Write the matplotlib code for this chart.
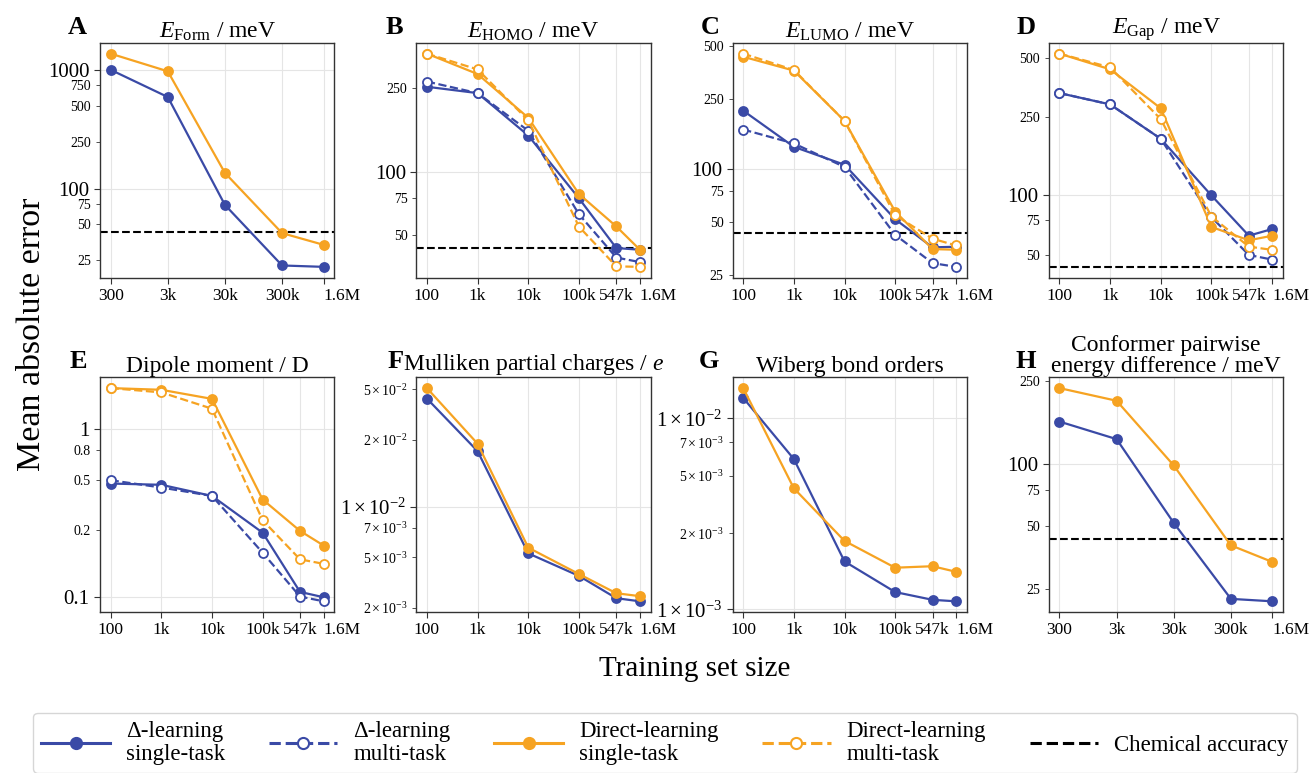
import matplotlib
matplotlib.use('Agg')
import matplotlib.pyplot as plt
from matplotlib.lines import Line2D
from matplotlib.ticker import NullLocator

plt.rcParams['font.family'] = ['Liberation Serif', 'DejaVu Serif']
plt.rcParams['mathtext.fontset'] = 'custom'
plt.rcParams['mathtext.rm'] = 'Liberation Serif'
plt.rcParams['mathtext.it'] = 'Liberation Serif:italic'
plt.rcParams['mathtext.bf'] = 'Liberation Serif:bold'

# training set sizes on the x axis
sizes_conf = [300, 3000, 30000, 300000, 1600000]
labels_conf = ['300', '3k', '30k', '300k', '1.6M']
sizes_qm = [100, 1000, 10000, 100000, 547000, 1600000]
labels_qm = ['100', '1k', '10k', '100k', '547k', '1.6M']

chem_acc = 43.4  # 1 kcal/mol in meV

# A: formation energy
form_delta_st = [1010, 595, 73, 22.5, 21.9]
form_direct_st = [1383, 981, 136, 42.2, 33.6]

# B: HOMO
homo_delta_st = [254, 237, 149, 75, 43.5, 42.7]
homo_delta_mt = [269, 237, 157, 63, 39.2, 37.3]
homo_direct_st = [365, 292, 181, 78.6, 55.1, 42.7]
homo_direct_mt = [365, 307, 176, 55, 35.6, 35.4]

# C: LUMO
lumo_delta_st = [215, 134, 106, 52, 36, 36.3]
lumo_delta_mt = [168, 140, 103, 42.4, 29.3, 27.9]
lumo_direct_st = [435, 363, 188, 57.5, 35.2, 34.9]
lumo_direct_mt = [453, 366, 188, 54.8, 40.3, 36.9]

# D: gap
gap_delta_st = [331, 290, 194, 100, 62.5, 67.6]
gap_delta_mt = [331, 290, 194, 77.6, 49.9, 47.2]
gap_direct_st = [525, 437, 277, 69.2, 59.2, 62.5]
gap_direct_mt = [525, 447, 244, 78.2, 55, 52.9]

# E: dipole moment
dip_delta_st = [0.474, 0.466, 0.40, 0.242, 0.1076, 0.100]
dip_delta_mt = [0.496, 0.449, 0.40, 0.184, 0.101, 0.0946]
dip_direct_st = [1.75, 1.71, 1.51, 0.381, 0.248, 0.203]
dip_direct_mt = [1.75, 1.65, 1.32, 0.287, 0.168, 0.158]

# F: Mulliken charges
mull_delta_st = [0.0440, 0.0214, 0.00527, 0.00387, 0.00285, 0.00273]
mull_direct_st = [0.0508, 0.0237, 0.0057, 0.00397, 0.00305, 0.00293]

# G: Wiberg bond orders
wbo_delta_st = [0.0128, 0.00612, 0.00178, 0.00123, 0.00112, 0.0011]
wbo_direct_st = [0.0144, 0.0043, 0.00228, 0.00165, 0.00168, 0.00157]

# H: conformer energy differences
conf_delta_st = [159, 131, 52, 22.5, 21.9]
conf_direct_st = [230, 200, 98, 40.6, 33.8]

blue = '#3a4aa6'
orange = '#f6a322'
styles = {
    'dst': dict(color=blue, ls='-', mfc=blue),
    'dmt': dict(color=blue, ls='--', mfc='white'),
    'ost': dict(color=orange, ls='-', mfc=orange),
    'omt': dict(color=orange, ls='--', mfc='white'),
}

sci = lambda m, e: r'$%d\times10^{%d}$' % (m, e)

panels = [
    dict(letter='A', title=r'$E_{\mathrm{Form}}$ / meV', x=sizes_conf, xl=labels_conf,
         series=[('dst', form_delta_st), ('ost', form_direct_st)],
         major=[100, 1000], major_l=['100', '1000'],
         minor=[25, 50, 75, 250, 500, 750], minor_l=['25', '50', '75', '250', '500', '750'], chem=True),
    dict(letter='B', title=r'$E_{\mathrm{HOMO}}$ / meV', x=sizes_qm, xl=labels_qm,
         series=[('dst', homo_delta_st), ('dmt', homo_delta_mt), ('ost', homo_direct_st), ('omt', homo_direct_mt)],
         major=[100], major_l=['100'],
         minor=[50, 75, 250], minor_l=['50', '75', '250'], chem=True),
    dict(letter='C', title=r'$E_{\mathrm{LUMO}}$ / meV', x=sizes_qm, xl=labels_qm,
         series=[('dst', lumo_delta_st), ('dmt', lumo_delta_mt), ('ost', lumo_direct_st), ('omt', lumo_direct_mt)],
         major=[100], major_l=['100'],
         minor=[25, 50, 75, 250, 500], minor_l=['25', '50', '75', '250', '500'], chem=True),
    dict(letter='D', title=r'$E_{\mathrm{Gap}}$ / meV', x=sizes_qm, xl=labels_qm,
         series=[('dst', gap_delta_st), ('dmt', gap_delta_mt), ('ost', gap_direct_st), ('omt', gap_direct_mt)],
         major=[100], major_l=['100'],
         minor=[50, 75, 250, 500], minor_l=['50', '75', '250', '500'], chem=True),
    dict(letter='E', title='Dipole moment / D', x=sizes_qm, xl=labels_qm,
         series=[('dst', dip_delta_st), ('dmt', dip_delta_mt), ('ost', dip_direct_st), ('omt', dip_direct_mt)],
         major=[0.1, 1], major_l=['0.1', '1'],
         minor=[0.25, 0.5, 0.75], minor_l=['0.2', '0.5', '0.8'], chem=False),
    dict(letter='F', title=r'Mulliken partial charges / $e$', x=sizes_qm, xl=labels_qm,
         series=[('dst', mull_delta_st), ('ost', mull_direct_st)],
         major=[0.01], major_l=[sci(1, -2)],
         minor=[0.0025, 0.005, 0.0075, 0.025, 0.05],
         minor_l=[sci(2, -3), sci(5, -3), sci(7, -3), sci(2, -2), sci(5, -2)], chem=False),
    dict(letter='G', title='Wiberg bond orders', x=sizes_qm, xl=labels_qm,
         series=[('dst', wbo_delta_st), ('ost', wbo_direct_st)],
         major=[0.001, 0.01], major_l=[sci(1, -3), sci(1, -2)],
         minor=[0.0025, 0.005, 0.0075], minor_l=[sci(2, -3), sci(5, -3), sci(7, -3)], chem=False),
    dict(letter='H', title='Conformer pairwise\nenergy difference / meV', x=sizes_conf, xl=labels_conf,
         series=[('dst', conf_delta_st), ('ost', conf_direct_st)],
         major=[100], major_l=['100'],
         minor=[25, 50, 75, 250], minor_l=['25', '50', '75', '250'], chem=True),
]

fig, axes = plt.subplots(2, 4, figsize=(13.09, 7.73), dpi=100)
fig.subplots_adjust(left=0.0764, right=0.9802, top=0.9444, bottom=0.2083, wspace=0.35, hspace=0.426)

for ax, p in zip(axes.flat, panels):
    for key, vals in p['series']:
        st = styles[key]
        ax.plot(p['x'], vals, color=st['color'], ls=st['ls'], lw=1.6, marker='o', ms=6.5,
                mfc=st['mfc'], mec=st['color'], mew=1.3)
    if p['chem']:
        ax.axhline(chem_acc, color='black', ls='--', lw=1.5, zorder=1.5)
    ax.set_xscale('log')
    ax.set_yscale('log')
    ylim = ax.get_ylim()
    ax.set_xticks(p['x'], p['xl'])
    ax.xaxis.set_minor_locator(NullLocator())
    # last label (1.6M) sits to the right of its tick so it does not hit 547k / 300k
    ax.get_xticklabels()[-1].set_horizontalalignment('left')
    ax.set_yticks(p['major'], labels=p['major_l'])
    ax.set_yticks(p['minor'], labels=p['minor_l'], minor=True)
    ax.set_ylim(ylim)
    ax.tick_params(axis='x', labelsize=12.5, length=4, color='#333333')
    ax.tick_params(axis='y', which='major', labelsize=15, length=4, color='#333333')
    ax.tick_params(axis='y', which='minor', labelsize=10, length=3, color='#333333')
    ax.grid(True, which='major', color='#e5e5e5', lw=0.8)
    ax.set_axisbelow(True)
    for s in ax.spines.values():
        s.set_color('#333333')
        s.set_linewidth(1.0)
    ax.set_title(p['title'], fontsize=17, pad=2.5, linespacing=1.05)
    ax.text(-0.055, 1.04, p['letter'], transform=ax.transAxes, ha='right', va='baseline',
            fontsize=19, fontweight='bold')

fig.text(0.024, 0.567, 'Mean absolute error', rotation=90, ha='center', va='center', fontsize=24.5)
fig.text(0.531, 0.134, 'Training set size', ha='center', va='center', fontsize=21)

handles = []
for key in ['dst', 'dmt', 'ost', 'omt']:
    st = styles[key]
    handles.append(Line2D([], [], color=st['color'], ls=st['ls'], lw=2.2, marker='o', ms=8,
                          mfc=st['mfc'], mec=st['color'], mew=1.5))
handles.append(Line2D([], [], color='black', ls='--', lw=2.2))
labels = ['\u0394-learning\nsingle-task', '\u0394-learning\nmulti-task',
          'Direct-learning\nsingle-task', 'Direct-learning\nmulti-task', 'Chemical accuracy']
leg = fig.legend(handles, labels, loc='upper center', bbox_to_anchor=(0.508, 0.078), ncol=5,
                 fontsize=16.5, handlelength=3.0, columnspacing=1.9, handletextpad=0.7,
                 frameon=True, fancybox=True, edgecolor='#cccccc', borderpad=0.35,
                 borderaxespad=0.0)
for t in leg.get_texts():
    t.set_linespacing(1.12)

fig.savefig('out.png', dpi=100)
